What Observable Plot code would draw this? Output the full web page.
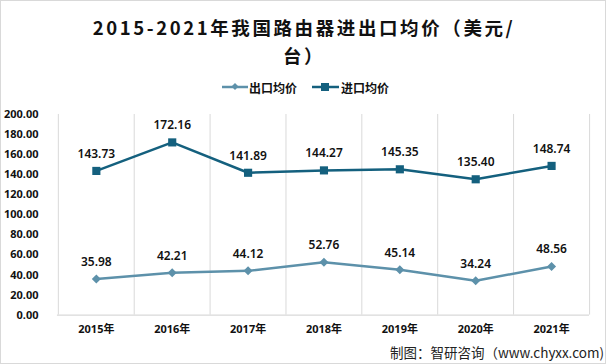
<!DOCTYPE html>
<html><head><meta charset="utf-8">
<script src="https://cdn.jsdelivr.net/npm/d3@7"></script>
<script src="https://cdn.jsdelivr.net/npm/@observablehq/plot@0.6"></script>
<style>
body{margin:0;background:#fff;}
#wrap{position:relative;width:606px;height:364px;border:1px solid #d9d9d9;box-sizing:border-box;overflow:hidden;font-family:"Noto Sans CJK SC","Noto Sans",sans-serif;background:#fff;}
.t{position:absolute;left:0;width:606px;text-align:center;font-weight:bold;font-size:18.5px;line-height:24px;letter-spacing:2.6px;color:#111;}
#legend{position:absolute;left:0;top:76px;width:606px;height:20px;}
.li{position:absolute;top:0;display:flex;align-items:center;height:20px;font-size:12px;font-weight:bold;color:#111;}
#chart{position:absolute;left:-1px;top:99px;}
#cap{position:absolute;right:1px;top:341px;font-size:13.5px;line-height:20px;color:#222;}
</style></head>
<body>
<div id="wrap">
  <div class="t" style="top:14px;">2015-2021年我国路由器进出口均价（美元/</div>
  <div class="t" style="top:42px;">台）</div>
  <div id="legend"></div>
  <div id="chart"></div>
  <div id="cap">制图：智研咨询（www.chyxx.com)</div>
</div>
<script>
const years = ["2015年","2016年","2017年","2018年","2019年","2020年","2021年"];
const seriesNames = ["出口均价","进口均价"];
const exportPrice = [35.98, 42.21, 44.12, 52.76, 45.14, 34.24, 48.56];
const importPrice = [143.73, 172.16, 141.89, 144.27, 145.35, 135.40, 148.74];
const yTicks = d3.range(0, 201, 20);
const colors = ["#5d91aa", "#14607e"];

const exportRows = years.map((y, i) => ({year: y, series: seriesNames[0], value: exportPrice[i]}));
const importRows = years.map((y, i) => ({year: y, series: seriesNames[1], value: importPrice[i]}));
const rows = exportRows.concat(importRows);

const W = 606, H = 240, mL = 57, mR = 16;
const bw = (W - mL - mR) / years.length;
const font = "'Noto Sans', 'Noto Sans CJK SC', sans-serif";

const chart = Plot.plot({
  width: W, height: H,
  marginTop: 14, marginBottom: 25, marginLeft: mL, marginRight: mR,
  x: {type: "band", domain: years, padding: 0},
  y: {domain: [0, 200]},
  color: {domain: seriesNames, range: colors},
  style: {fontFamily: font, background: "transparent", color: "#111", overflow: "visible"},
  marks: [
    Plot.ruleX(years, {x: d => d, dx: -bw / 2, stroke: "#d9d9d9", strokeWidth: 1}),
    Plot.ruleX([years[years.length - 1]], {x: d => d, dx: bw / 2, stroke: "#d9d9d9", strokeWidth: 1}),
    Plot.ruleY([0], {stroke: "#d9d9d9", strokeWidth: 1.3}),
    Plot.axisY({ticks: yTicks, tickSize: 0, tickPadding: 19, tickFormat: d => d.toFixed(2), fontSize: 11, fontWeight: "bold", label: null}),
    Plot.axisX({tickSize: 0, tickPadding: 10, fontSize: 11, fontWeight: "bold", label: null, style: "letter-spacing:1px"}),
    Plot.lineY(exportRows, {x: "year", y: "value", stroke: colors[0], strokeWidth: 2.5}),
    Plot.lineY(importRows, {x: "year", y: "value", stroke: colors[1], strokeWidth: 2.5}),
    Plot.dot(exportRows, {x: "year", y: "value", symbol: "square", r: 3.6, rotate: 45, fill: colors[0], stroke: "none"}),
    Plot.dot(importRows, {x: "year", y: "value", symbol: "square", r: 4.6, fill: colors[1], stroke: "none"}),
    Plot.text(rows, {x: "year", y: "value", text: d => d.value.toFixed(2), dy: -17, fontSize: 12, fontWeight: 600, fill: "#111"})
  ]
});
document.getElementById("chart").appendChild(chart);

// legend
const legend = document.getElementById("legend");
const lefts = [221, 311];
seriesNames.forEach((name, i) => {
  const item = document.createElement("div");
  item.className = "li";
  item.style.left = lefts[i] + "px";
  const marker = i === 0
    ? `<svg width="27" height="20"><line x1="0" x2="26" y1="10" y2="10" stroke="${colors[0]}" stroke-width="2.5"/><rect x="10.5" y="7" width="5" height="5" fill="${colors[0]}" transform="rotate(45 13 9.5)"/></svg>`
    : `<svg width="29" height="20"><line x1="0" x2="27" y1="10" y2="10" stroke="${colors[1]}" stroke-width="2.5"/><rect x="9" y="6" width="8" height="8" fill="${colors[1]}"/></svg>`;
  item.innerHTML = marker + `<span>${name}</span>`;
  legend.appendChild(item);
});
</script>
</body></html>
